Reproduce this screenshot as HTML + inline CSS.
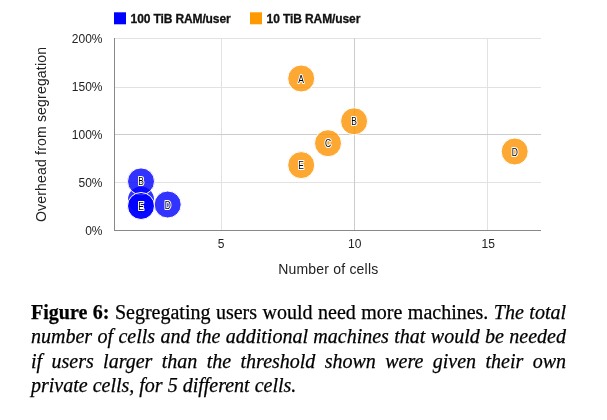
<!DOCTYPE html>
<html><head><meta charset="utf-8">
<style>
html,body{margin:0;padding:0;background:#fff;}
body{width:607px;height:420px;position:relative;overflow:hidden;}
svg{position:absolute;left:0;top:0;will-change:transform;}
.cap{position:absolute;will-change:transform;left:30.5px;width:535px;font-family:"Liberation Serif",serif;font-size:20px;line-height:24.45px;color:#000;-webkit-text-stroke:0.25px #000;}
.cap div{text-align:justify;text-align-last:justify;white-space:nowrap;}
.cap div.last{text-align:left;text-align-last:left;}
.cap i{font-style:italic;}
</style></head><body>
<svg width="607" height="290" viewBox="0 0 607 290" font-family="Liberation Sans, sans-serif">
  <!-- legend -->
  <rect x="114" y="12.3" width="12" height="12" fill="#0000ff"/>
  <text x="130.6" y="22.8" font-size="12" font-weight="bold" fill="#111" stroke="#111" stroke-width="0.3" letter-spacing="-0.12">100 TiB RAM/user</text>
  <rect x="250" y="12.3" width="12" height="12" fill="#ff9900"/>
  <text x="266.6" y="22.8" font-size="12" font-weight="bold" fill="#111" stroke="#111" stroke-width="0.3" letter-spacing="-0.1">10 TiB RAM/user</text>
  <!-- gridlines -->
  <g stroke="#e2e2e2" stroke-width="1" shape-rendering="crispEdges">
    <line x1="114" y1="38.5" x2="541" y2="38.5"/>
    <line x1="114" y1="87.5" x2="541" y2="87.5"/>
    <line x1="114" y1="182.5" x2="541" y2="182.5"/>
    <line x1="221.5" y1="38" x2="221.5" y2="230"/>
    <line x1="487.5" y1="38" x2="487.5" y2="230"/>
  </g>
  <g stroke="#cccccc" stroke-width="1" shape-rendering="crispEdges">
    <line x1="114" y1="134.5" x2="541" y2="134.5"/>
    <line x1="354.5" y1="38" x2="354.5" y2="230"/>
  </g>
  <g stroke="#888" stroke-width="1" shape-rendering="crispEdges">
    <line x1="114.5" y1="38" x2="114.5" y2="231"/>
    <line x1="114" y1="230.5" x2="541" y2="230.5"/>
  </g>
  <!-- y labels -->
  <g font-size="12" fill="#222" text-anchor="end">
    <text x="102.5" y="43.3">200%</text>
    <text x="102.5" y="91.3">150%</text>
    <text x="102.5" y="139.3">100%</text>
    <text x="102.5" y="187.3">50%</text>
    <text x="102.5" y="235.3">0%</text>
  </g>
  <!-- x labels -->
  <g font-size="12" fill="#222" text-anchor="middle">
    <text x="221.1" y="248">5</text>
    <text x="354.7" y="248">10</text>
    <text x="488.2" y="248">15</text>
  </g>
  <text x="328.3" y="274.4" font-size="14" fill="#222" text-anchor="middle" letter-spacing="0.2">Number of cells</text>
  <text transform="translate(46.3,134.4) rotate(-90)" font-size="14" fill="#222" text-anchor="middle" letter-spacing="0.19">Overhead from segregation</text>
  <!-- bubbles -->
  <g stroke="#fff" stroke-width="1" fill-opacity="0.8">
    <circle cx="141" cy="206" r="13" fill="#0000ff" stroke="none"/>
    <circle cx="141" cy="199.5" r="13" fill="#0000ff" stroke="none"/>
    <circle cx="141" cy="181.4" r="13.5" fill="#0000ff"/>
    <circle cx="167.7" cy="204.5" r="13.5" fill="#0000ff"/>
    <circle cx="141" cy="206" r="13.5" fill="#0000ff"/>
    <circle cx="301.2" cy="78.5" r="13.5" fill="#fb9200"/>
    <circle cx="354.1" cy="121.3" r="13.5" fill="#fb9200"/>
    <circle cx="328" cy="143.2" r="13.5" fill="#fb9200"/>
    <circle cx="514.7" cy="151.5" r="13.5" fill="#fb9200"/>
    <circle cx="301.2" cy="165.1" r="13.5" fill="#fb9200"/>
  </g>
  <g font-size="10" fill="#000" stroke="#fff" stroke-width="2.2" paint-order="stroke" text-anchor="middle" stroke-linejoin="round">
    <text transform="translate(141,185.4) scale(0.85,1)">B</text>
    <text transform="translate(167.7,208.5) scale(0.85,1)">D</text>
    <text transform="translate(141,210.0) scale(0.85,1)">E</text>
    <text transform="translate(301.2,82.5) scale(0.85,1)">A</text>
    <text transform="translate(354.1,125.3) scale(0.85,1)">B</text>
    <text transform="translate(328,147.2) scale(0.85,1)">C</text>
    <text transform="translate(514.7,155.5) scale(0.85,1)">D</text>
    <text transform="translate(301.2,169.1) scale(0.85,1)">E</text>
  </g>
</svg>
<div class="cap" style="top:300.2px">
  <div><b>Figure 6:</b> Segregating users would need more machines. <i>The total</i></div>
  <div><i>number of cells and the additional machines that would be needed</i></div>
  <div><i>if users larger than the threshold shown were given their own</i></div>
  <div class="last"><i>private cells, for 5 different cells.</i></div>
</div>
</body></html>
